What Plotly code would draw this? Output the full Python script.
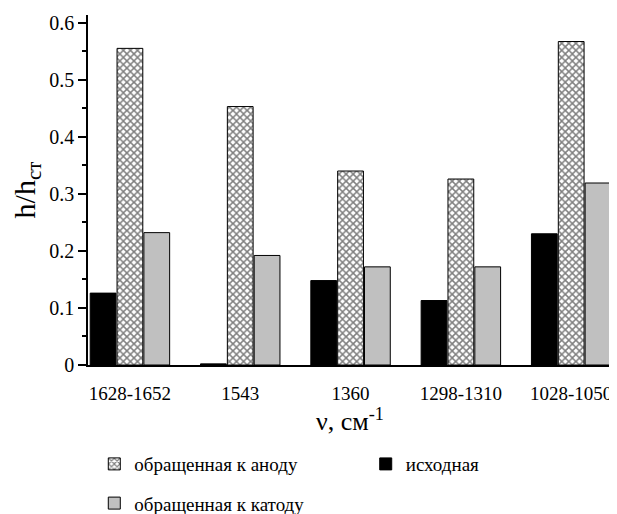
import plotly.graph_objects as go

categories = ["1628-1652", "1543", "1360", "1298-1310", "1028-1050"]
ishodnaya = [0.126, 0.002, 0.148, 0.113, 0.230]
k_anodu = [0.555, 0.453, 0.340, 0.326, 0.567]
k_katodu = [0.232, 0.192, 0.172, 0.172, 0.319]
y_tickvals = [0, 0.1, 0.2, 0.3, 0.4, 0.5, 0.6]
y_ticktext = ["0", "0.1", "0.2", "0.3", "0.4", "0.5", "0.6"]

FONT = "'Liberation Serif', Tinos, 'Times New Roman', Times, serif"

fig = go.Figure()
fig.add_trace(go.Bar(
    x=categories, y=ishodnaya, name="исходная",
    marker=dict(color="black", line=dict(color="black", width=1)),
    legend="legend2",
))
fig.add_trace(go.Bar(
    x=categories, y=k_anodu, name="обращенная к аноду",
    marker=dict(color="white", line=dict(color="black", width=1),
                pattern=dict(shape="x", fgcolor="black", bgcolor="white",
                             size=5, solidity=0.5, fillmode="overlay")),
    legend="legend",
))
fig.add_trace(go.Bar(
    x=categories, y=k_katodu, name="обращенная к катоду",
    marker=dict(color="#c0c0c0", line=dict(color="black", width=1)),
    legend="legend3",
))

legend_common = dict(font=dict(family=FONT, size=19, color="black"),
                     bgcolor="rgba(0,0,0,0)", yanchor="middle", xanchor="left")

# the page body adds an 8px offset; the figure is sized to fit the 617x514 window
fig.update_layout(
    width=609, height=506,
    margin=dict(l=80, r=5, t=7, b=149, autoexpand=False),
    paper_bgcolor="white", plot_bgcolor="white",
    barmode="group", bargap=0.27, bargroupgap=0.04,
    font=dict(family=FONT, color="black"),
    showlegend=True,
    legend=dict(x=0.012, y=-0.283, **legend_common),
    legend2=dict(x=0.53, y=-0.283, **legend_common),
    legend3=dict(x=0.012, y=-0.395, **legend_common),
    xaxis=dict(
        type="category", range=[-0.38, 4.37], automargin=False,
        showline=True, linecolor="black", linewidth=1.5,
        ticks="", showgrid=False, zeroline=False,
        tickfont=dict(family=FONT, size=19, color="black"),
        ticklabelstandoff=10,
        title=dict(text="ν, см<sup>-1</sup>", font=dict(family=FONT, size=26, color="black"),
                   standoff=2),
    ),
    yaxis=dict(
        range=[0, 0.6135], automargin=False,
        showline=True, linecolor="black", linewidth=1.5,
        ticks="outside", ticklen=8, tickwidth=1.5, tickcolor="black",
        tickvals=y_tickvals, ticktext=y_ticktext,
        minor=dict(ticks="outside", ticklen=4, tickwidth=1.5, tickcolor="black", dtick=0.05,
                   showgrid=False),
        showgrid=False, zeroline=False,
        tickfont=dict(family=FONT, size=20, color="black"),
        title=dict(text="h/h<sub>ст</sub>", font=dict(family=FONT, size=30, color="black"),
                   standoff=14),
    ),
)

fig.write_html("out.html")
